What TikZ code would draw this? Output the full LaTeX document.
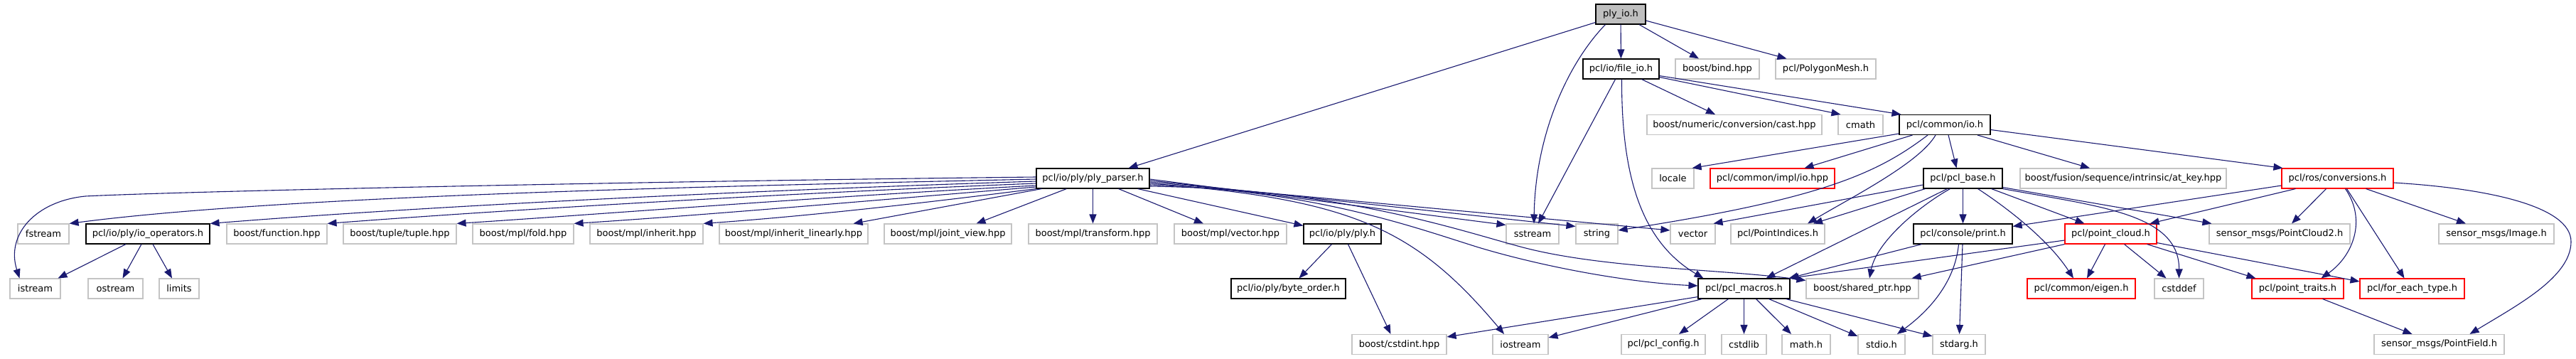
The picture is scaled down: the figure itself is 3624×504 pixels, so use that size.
\documentclass[tikz,border=0pt]{standalone}
\usepackage{fontspec}
\setmainfont{DejaVu Sans}
\usetikzlibrary{arrows.meta,calc}
\definecolor{mblue}{HTML}{191970}
\definecolor{gbord}{HTML}{C4C4C4}
\definecolor{gfill}{HTML}{BFBFBF}
\tikzset{
  nbase/.style={rectangle, inner sep=0pt, minimum height=28pt, font=\fontsize{13pt}{15pt}\selectfont, line width=1.1pt},
  gnode/.style={nbase, draw=gbord},
  bnode/.style={nbase, draw=black},
  rnode/.style={nbase, draw=red},
  rootnode/.style={nbase, draw=black, fill=gfill},
  edge/.style={draw=mblue, line width=1.1pt, -{Triangle[length=13pt,width=10pt]}}
}
\begin{document}
\begin{tikzpicture}[x=1pt,y=-1pt]
\useasboundingbox (0,0) rectangle (3624,504);
% row 0
\node[rootnode, minimum width=70pt] (plyio) at (2280,20) {ply\_io.h};
% row 1
\node[bnode, minimum width=107pt] (fileio) at (2280.5,97) {pcl/io/file\_io.h};
\node[gnode, minimum width=118pt] (bind) at (2416,97) {boost/bind.hpp};
\node[gnode, minimum width=141pt] (pmesh) at (2568.5,97) {pcl/PolygonMesh.h};
% row 2
\node[gnode, minimum width=246pt] (numcast) at (2440,175.5) {boost/numeric/conversion/cast.hpp};
\node[gnode, minimum width=63pt] (cmath) at (2617.5,175.5) {cmath};
\node[bnode, minimum width=128pt] (commonio) at (2736,175.5) {pcl/common/io.h};
% row 3
\node[bnode, minimum width=159pt] (ppar) at (1537.5,251) {pcl/io/ply/ply\_parser.h};
\node[gnode, minimum width=59pt] (locale) at (2353.5,251) {locale};
\node[rnode, minimum width=175pt] (implio) at (2493.5,251) {pcl/common/impl/io.hpp};
\node[bnode, minimum width=111pt] (pclbase) at (2761.5,251) {pcl/pcl\_base.h};
\node[gnode, minimum width=290pt] (atkey) at (2987,251) {boost/fusion/sequence/intrinsic/at\_key.hpp};
\node[rnode, minimum width=157pt] (conversions) at (3288.5,251) {pcl/ros/conversions.h};
% row 4
\node[gnode, minimum width=72pt] (fstream) at (61,329) {fstream};
\node[bnode, minimum width=174pt] (ioop) at (208,329) {pcl/io/ply/io\_operators.h};
\node[gnode, minimum width=141pt] (function) at (389.5,329) {boost/function.hpp};
\node[gnode, minimum width=159pt] (tuple) at (562.5,329) {boost/tuple/tuple.hpp};
\node[gnode, minimum width=142pt] (fold) at (736,329) {boost/mpl/fold.hpp};
\node[gnode, minimum width=159pt] (inherit) at (909.5,329) {boost/mpl/inherit.hpp};
\node[gnode, minimum width=209pt] (inheritlin) at (1116.5,329) {boost/mpl/inherit\_linearly.hpp};
\node[gnode, minimum width=179pt] (jointview) at (1333.5,329) {boost/mpl/joint\_view.hpp};
\node[gnode, minimum width=181pt] (transform) at (1537.5,329) {boost/mpl/transform.hpp};
\node[gnode, minimum width=158pt] (mplvector) at (1731,329) {boost/mpl/vector.hpp};
\node[bnode, minimum width=109pt] (plyh) at (1888.5,329) {pcl/io/ply/ply.h};
\node[gnode, minimum width=74pt] (sstream) at (2156,329) {sstream};
\node[gnode, minimum width=59pt] (string) at (2246.5,329) {string};
\node[gnode, minimum width=63pt] (vector) at (2381.5,329) {vector};
\node[gnode, minimum width=132pt] (pointindices) at (2501,329) {pcl/PointIndices.h};
\node[bnode, minimum width=139pt] (print) at (2761.5,329) {pcl/console/print.h};
\node[rnode, minimum width=129pt] (pointcloud) at (2969.5,329) {pcl/point\_cloud.h};
\node[gnode, minimum width=198pt] (pointcloud2) at (3207,329) {sensor\_msgs/PointCloud2.h};
\node[gnode, minimum width=162pt] (image) at (3512,329) {sensor\_msgs/Image.h};
% row 5
\node[gnode, minimum width=71pt] (istream) at (49.5,406) {istream};
\node[gnode, minimum width=77pt] (ostream) at (162.5,406) {ostream};
\node[gnode, minimum width=56pt] (limits) at (252,406) {limits};
\node[bnode, minimum width=161pt] (byteorder) at (1812.5,406) {pcl/io/ply/byte\_order.h};
\node[bnode, minimum width=129pt] (pclmacros) at (2453.5,406) {pcl/pcl\_macros.h};
\node[gnode, minimum width=158pt] (sharedptr) at (2620,406) {boost/shared\_ptr.hpp};
\node[rnode, minimum width=152pt] (eigen) at (2928,406) {pcl/common/eigen.h};
\node[gnode, minimum width=69pt] (cstddef) at (3065.5,406) {cstddef};
\node[rnode, minimum width=129pt] (pointtraits) at (3232.5,406) {pcl/point\_traits.h};
\node[rnode, minimum width=147pt] (foreach) at (3393.5,406) {pcl/for\_each\_type.h};
% row 6
\node[gnode, minimum width=133pt] (cstdint) at (1968.5,484.5) {boost/cstdint.hpp};
\node[gnode, minimum width=78pt] (iostream) at (2139,484.5) {iostream};
\node[gnode, minimum width=118pt] (pclconfig) at (2340,484.5) {pcl/pcl\_config.h};
\node[gnode, minimum width=63pt] (cstdlib) at (2453.5,484.5) {cstdlib};
\node[gnode, minimum width=68pt] (math) at (2541,484.5) {math.h};
\node[gnode, minimum width=66pt] (stdio) at (2647,484.5) {stdio.h};
\node[gnode, minimum width=74pt] (stdarg) at (2756,484.5) {stdarg.h};
\node[gnode, minimum width=183pt] (pointfield) at (3431.5,484.5) {sensor\_msgs/PointField.h};

% ---- edges: ply_io
\draw[edge] ([yshift=3pt]plyio.south west) -- ([xshift=-30pt]ppar.north east);
\draw[edge] ([xshift=14pt]plyio.south west) .. controls (2205,90) and (2160,190) .. ([xshift=2pt]sstream.north);
\draw[edge] (plyio) -- (fileio);
\draw[edge] ([xshift=26pt]plyio.south) -- ([xshift=-26pt]bind.north);
\draw[edge] ([yshift=-9pt]plyio.east) -- ([xshift=16pt]pmesh.north west);
% file_io
\draw[edge] ([xshift=-8pt]fileio.south) -- ([xshift=8pt]sstream.north);
\draw[edge] ([xshift=1pt]fileio.south) .. controls (2281,250) and (2310,340) .. ([xshift=8pt]pclmacros.north west);
\draw[edge] ([xshift=29pt]fileio.south) -- ([xshift=-27pt]numcast.north);
\draw[edge] ([yshift=3pt]fileio.south east) -- ([xshift=4pt]cmath.north west);
\draw[edge] ([yshift=5pt]fileio.south east) -- ([xshift=3pt]commonio.north west);
% common/io
\draw[edge] ([yshift=2pt]commonio.south west) -- ([xshift=-3pt]locale.north east);
\draw[edge] ([xshift=19pt]commonio.south west) -- ([xshift=45pt]implio.north);
\draw[edge] ([xshift=-24pt]commonio.south) .. controls (2640,245) and (2560,280) .. ([yshift=5pt]string.east);
\draw[edge] ([xshift=-13pt]commonio.south) .. controls (2700,230) and (2600,280) .. ([xshift=42pt]pointindices.north);
\draw[edge] ([xshift=5pt]commonio.south) -- ([xshift=-9pt]pclbase.north);
\draw[edge] ([xshift=46pt]commonio.south) -- ([xshift=-47pt]atkey.north);
\draw[edge] ([yshift=-7pt]commonio.east) -- ([xshift=2pt]conversions.north west);
% pcl_base
\draw[edge] ([yshift=-9pt]pclbase.west) -- ([xshift=-3pt]vector.north east);
\draw[edge] ([xshift=3pt]pclbase.south west) -- ([xshift=50pt]pointindices.north);
\draw[edge] ([xshift=-22pt]pclbase.south) -- ([xshift=31pt]pclmacros.north);
\draw[edge] ([xshift=-18pt]pclbase.south) .. controls (2700,290) and (2640,340) .. ([xshift=10pt]sharedptr.north);
\draw[edge] (pclbase) -- (print);
\draw[edge] ([xshift=21pt]pclbase.south) .. controls (2820,290) and (2880,335) .. ([xshift=-11pt]eigen.north);
\draw[edge] ([xshift=40pt]pclbase.south) -- ([xshift=-37pt]pointcloud.north);
\draw[edge] ([yshift=2pt]pclbase.south east) -- ([xshift=4pt]pointcloud2.north west);
\draw[edge] (pclbase.south east) .. controls (2950,290) and (3066,300) .. (cstddef.north);
% point_cloud
\draw[edge] ([yshift=-9pt]pointcloud.west) -- ([xshift=-1pt]pclmacros.north east);
\draw[edge] (pointcloud.south west) -- ([xshift=-10pt]sharedptr.north east);
\draw[edge] ([xshift=-8pt]pointcloud.south) -- ([xshift=8pt]eigen.north);
\draw[edge] ([xshift=19pt]pointcloud.south) -- ([xshift=-18pt]cstddef.north);
\draw[edge] ([xshift=-14pt]pointcloud.south east) -- ([xshift=6pt]pointtraits.north west);
\draw[edge] ([yshift=2pt]pointcloud.south east) -- ([yshift=10pt]foreach.west);
% console/print
\draw[edge] ([xshift=12pt]print.south west) -- ([xshift=-2pt]pclmacros.north east);
\draw[edge] ([xshift=-6pt]print.south) .. controls (2750,400) and (2710,440) .. ([xshift=22pt]stdio.north);
\draw[edge] (print) -- (stdarg);
% pcl_macros
\draw[edge] (pclmacros) -- (cstdlib);
\draw[edge] ([xshift=17pt]pclmacros.south) -- ([xshift=-21pt]math.north);
\draw[edge] ([xshift=35pt]pclmacros.south) -- ([yshift=-3pt]stdio.north west);
\draw[edge] ([xshift=-6pt]pclmacros.south east) -- ([yshift=-3pt]stdarg.north west);
\draw[edge] ([xshift=-22pt]pclmacros.south) -- ([xshift=22pt]pclconfig.north);
\draw[edge] ([xshift=6pt]pclmacros.south west) -- ([yshift=-5pt]iostream.north east);
\draw[edge] ([yshift=3pt]pclmacros.south west) -- ([yshift=-4pt]cstdint.north east);
% ply.h
\draw[edge] ([xshift=-15pt]plyh.south) -- ([xshift=15pt]byteorder.north);
\draw[edge] ([xshift=8pt]plyh.south) -- ([xshift=-12pt]cstdint.north);
% io_operators
\draw[edge] ([xshift=-31pt]ioop.south) -- ([xshift=-4pt]istream.north east);
\draw[edge] ([xshift=-9pt]ioop.south) -- ([xshift=10pt]ostream.north);
\draw[edge] ([xshift=7pt]ioop.south) -- ([xshift=-10pt]limits.north);
% conversions
\draw[edge] ([yshift=-10pt]conversions.west) -- ([yshift=-4pt]print.north east);
\draw[edge] ([xshift=20pt]conversions.south west) -- ([xshift=-10pt]pointcloud.north east);
\draw[edge] ([xshift=-16pt]conversions.south) -- ([xshift=17pt]pointcloud2.north);
\draw[edge] ([xshift=11pt]conversions.south) .. controls (3330,310) and (3310,360) .. ([xshift=33pt]pointtraits.north);
\draw[edge] ([xshift=13pt]conversions.south) -- ([xshift=-11pt]foreach.north);
\draw[edge] ([xshift=40pt]conversions.south) -- ([xshift=-43pt]image.north);
\coordinate (pfk) at (3617,340);
\draw[edge] ([yshift=-6pt]conversions.east) .. controls (3500,265) and (3617,290) .. (pfk) .. controls (3617,390) and (3540,430) .. ([xshift=43pt]pointfield.north);
\draw[edge] ([xshift=35pt]pointtraits.south) -- ([xshift=-38pt]pointfield.north);
% ply_parser
\coordinate (isk) at (120,276);
\draw[edge] ([yshift=2pt]ppar.west) .. controls (900,255) and (260,269) .. (isk) .. controls (50,283) and (8,330) .. ([xshift=-22pt]istream.north);
\draw[edge] ([yshift=-1pt]ppar.west) .. controls (1000,262) and (400,275) .. (fstream.north east);
\draw[edge] ([yshift=-4pt]ppar.west) .. controls (1050,268) and (600,290) .. (ioop.north east);
\draw[edge] ([yshift=-7pt]ppar.west) .. controls (1100,272) and (700,296) .. (function.north east);
\draw[edge] ([yshift=-10pt]ppar.west) .. controls (1150,277) and (850,301) .. (tuple.north east);
\draw[edge] ([yshift=-12pt]ppar.west) .. controls (1250,280) and (1000,302) .. (fold.north east);
\draw[edge] (ppar.south west) .. controls (1320,283) and (1150,303) .. (inherit.north east);
\draw[edge] ([xshift=8pt]ppar.south west) -- ([xshift=-21pt]inheritlin.north east);
\draw[edge] ([xshift=-37pt]ppar.south) -- ([xshift=40pt]jointview.north);
\draw[edge] (ppar) -- (transform);
\draw[edge] ([xshift=36pt]ppar.south) -- ([xshift=-38pt]mplvector.north);
\draw[edge] ([xshift=-17pt]ppar.south east) -- ([yshift=-3pt]plyh.north west);
\draw[edge] ([yshift=-1pt]ppar.east) -- ([yshift=-2pt]sstream.north west);
\draw[edge] ([yshift=-3pt]ppar.east) -- ([yshift=-4pt]string.north west);
\draw[edge] ([yshift=-5pt]ppar.east) -- ([yshift=5pt]vector.west);
\draw[edge] ([yshift=-7pt]ppar.east) .. controls (1900,280) and (1990,320) .. ([xshift=-23pt]iostream.north);
\coordinate (pmk) at (2080,348);
\draw[edge] ([yshift=-9pt]ppar.east) .. controls (1850,268) and (1990,320) .. (pmk) .. controls (2180,378) and (2300,398) .. ([yshift=4pt]pclmacros.west);
\coordinate (spk) at (2135,346);
\draw[edge] ([yshift=-11pt]ppar.east) .. controls (1880,266) and (2040,320) .. (spk) .. controls (2250,378) and (2420,378) .. ([yshift=-3pt]sharedptr.north west);
\end{tikzpicture}
\end{document}
